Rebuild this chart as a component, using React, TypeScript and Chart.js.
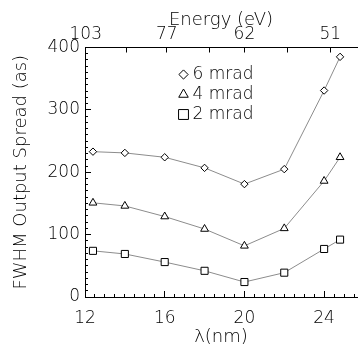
import React, { useEffect, useRef } from 'react';
import { Chart, registerables } from 'chart.js';
import { drawPoint } from 'chart.js/helpers';

Chart.register(...registerables);

// ---- data ----
const wavelengths = [12.4, 14, 16, 18, 20, 22, 24, 24.8];
const spread6mrad = [233, 231, 224, 207, 181, 205, 331, 385];
const spread4mrad = [151, 146, 129, 109, 82, 110, 186, 224];
const spread2mrad = [74, 69, 56, 42, 24, 39, 77, 92];
const seriesLabels = ['6 mrad', '4 mrad', '2 mrad'];
const lambdaTicks = [12, 16, 20, 24];
const energyTicks = [103, 88, 77, 68, 62, 56, 51];
const energyTickLabels = [103, 77, 62, 51];
const spreadTicks = [0, 100, 200, 300, 400];
const HC_EV_NM = 1240;

// ---- axis ranges / styling ----
const X_MIN = 12;
const X_MAX = 25.65;
const Y_MIN = 0;
const Y_MAX = 400;
const X_MINOR_STEP = 0.5;
const Y_MINOR_STEP = 10;

const FAMILY = "'DejaVu Sans', sans-serif";
const FONT = { family: FAMILY, size: 17, weight: '200' as any };
const TITLE_FONT = { family: FAMILY, size: 18, weight: '200' as any };
const LINE_COLOR = '#8c8c8c';

const pointStyles = ['rectRot', 'triangle', 'rect'];
const pointRadii = [3.7, 4.5, 5];
const legendRadii = [4.6, 5.5, 7];

const tickMarksPlugin = {
  id: 'tickMarks',
  afterDraw(chart: any) {
    const { ctx, chartArea, scales } = chart;
    const { left, top, bottom } = chartArea;
    const al = (p: number) => Math.round(p - 0.5) + 0.5;
    ctx.save();
    ctx.strokeStyle = '#000';
    ctx.lineWidth = 1;
    ctx.beginPath();
    const xs = scales.x;
    for (let v = X_MIN; v <= X_MAX + 1e-9; v += X_MINOR_STEP) {
      const px = al(xs.getPixelForValue(v));
      const major = lambdaTicks.some((t) => Math.abs(t - v) < 1e-6);
      const len = major ? 6 : 3;
      ctx.moveTo(px, bottom);
      ctx.lineTo(px, bottom - len);
    }
    const xt = scales.xTop;
    for (const e of energyTicks) {
      const px = al(xt.getPixelForValue(HC_EV_NM / e));
      ctx.moveTo(px, top);
      ctx.lineTo(px, top + 5);
    }
    const ys = scales.y;
    for (let v = Y_MIN; v <= Y_MAX + 1e-9; v += Y_MINOR_STEP) {
      const py = al(ys.getPixelForValue(v));
      const major = spreadTicks.includes(v);
      const len = major ? 6 : 3;
      ctx.moveTo(left, py);
      ctx.lineTo(left + len, py);
    }
    ctx.stroke();
    ctx.restore();
  },
};

const insetLegendPlugin = {
  id: 'insetLegend',
  afterDatasetsDraw(chart: any) {
    const { ctx, chartArea } = chart;
    const x0 = chartArea.left + 98.5;
    const y0 = chartArea.top + 27;
    const rowH = 20;
    ctx.save();
    chart.data.datasets.forEach((ds: any, i: number) => {
      const y = y0 + i * rowH;
      ctx.strokeStyle = '#000';
      ctx.fillStyle = '#fff';
      ctx.lineWidth = 1;
      drawPoint(ctx, { pointStyle: ds.pointStyle, rotation: 0, radius: legendRadii[i], borderWidth: 1 } as any, x0, y);
      ctx.fillStyle = '#000';
      ctx.font = `200 17px ${FAMILY}`;
      ctx.textBaseline = 'middle';
      ctx.textAlign = 'left';
      ctx.fillText(ds.label, x0 + 9, y);
    });
    ctx.restore();
  },
};

export default function App() {
  const canvasRef = useRef<HTMLCanvasElement | null>(null);

  useEffect(() => {
    const canvas = canvasRef.current;
    if (!canvas) return;
    const series = [spread6mrad, spread4mrad, spread2mrad];
    const chart = new Chart(canvas, {
      type: 'line',
      data: {
        datasets: series.map((arr, i) => ({
          label: seriesLabels[i],
          data: wavelengths.map((x, j) => ({ x, y: arr[j] })),
          borderColor: LINE_COLOR,
          borderWidth: 1,
          pointStyle: pointStyles[i] as any,
          pointRadius: pointRadii[i],
          pointBorderColor: '#000',
          pointBackgroundColor: '#fff',
          pointBorderWidth: 1,
          tension: 0,
          xAxisID: 'x',
          yAxisID: 'y',
        })),
      },
      options: {
        responsive: false,
        animation: false,
        layout: { padding: 0 },
        plugins: { legend: { display: false }, tooltip: { enabled: false } },
        scales: {
          x: {
            type: 'linear',
            position: 'bottom',
            min: X_MIN,
            max: X_MAX,
            grid: { display: false, drawTicks: false },
            border: { display: true, color: '#000', width: 1 },
            ticks: { font: FONT, color: '#000', padding: 11, autoSkip: false, maxRotation: 0 },
            afterBuildTicks: (s: any) => {
              s.ticks = lambdaTicks.map((v) => ({ value: v }));
            },
            afterFit: (s: any) => {
              s.height = 57;
            },
            title: { display: true, text: 'λ(nm)', font: TITLE_FONT, color: '#000', padding: { top: 0, bottom: 6 } },
          },
          xTop: {
            type: 'linear',
            axis: 'x',
            position: 'top',
            min: X_MIN,
            max: X_MAX,
            grid: { display: false, drawTicks: false },
            border: { display: true, color: '#000', width: 1 },
            ticks: {
              font: FONT,
              color: '#000',
              padding: 3,
              autoSkip: false,
              maxRotation: 0,
              callback: (v: any) => {
                const e = Math.round(HC_EV_NM / Number(v));
                return energyTickLabels.includes(e) ? String(e) : '';
              },
            },
            afterBuildTicks: (s: any) => {
              s.ticks = energyTicks.map((e) => ({ value: HC_EV_NM / e }));
            },
            afterFit: (s: any) => {
              s.height = 47.5;
            },
            title: { display: true, text: 'Energy (eV)', font: TITLE_FONT, color: '#000', padding: { top: 10, bottom: 0 } },
          } as any,
          y: {
            type: 'linear',
            position: 'left',
            min: Y_MIN,
            max: Y_MAX,
            grid: { display: false, drawTicks: false },
            border: { display: true, color: '#000', width: 1 },
            ticks: { font: FONT, color: '#000', padding: 5 },
            afterBuildTicks: (s: any) => {
              s.ticks = spreadTicks.map((v) => ({ value: v }));
            },
            afterFit: (s: any) => {
              s.width = 85;
            },
            title: { display: true, text: 'FWHM Output Spread (as)', font: TITLE_FONT, color: '#000', padding: { top: 11, bottom: 0 } },
          },
        },
      },
      plugins: [tickMarksPlugin, insetLegendPlugin],
    });
    return () => chart.destroy();
  }, []);

  return (
    <div style={{ position: 'fixed', left: 0, top: 0, width: 363, height: 354, background: '#fff' }}>
      <canvas ref={canvasRef} width={363} height={354} style={{ display: 'block' }} />
    </div>
  );
}
